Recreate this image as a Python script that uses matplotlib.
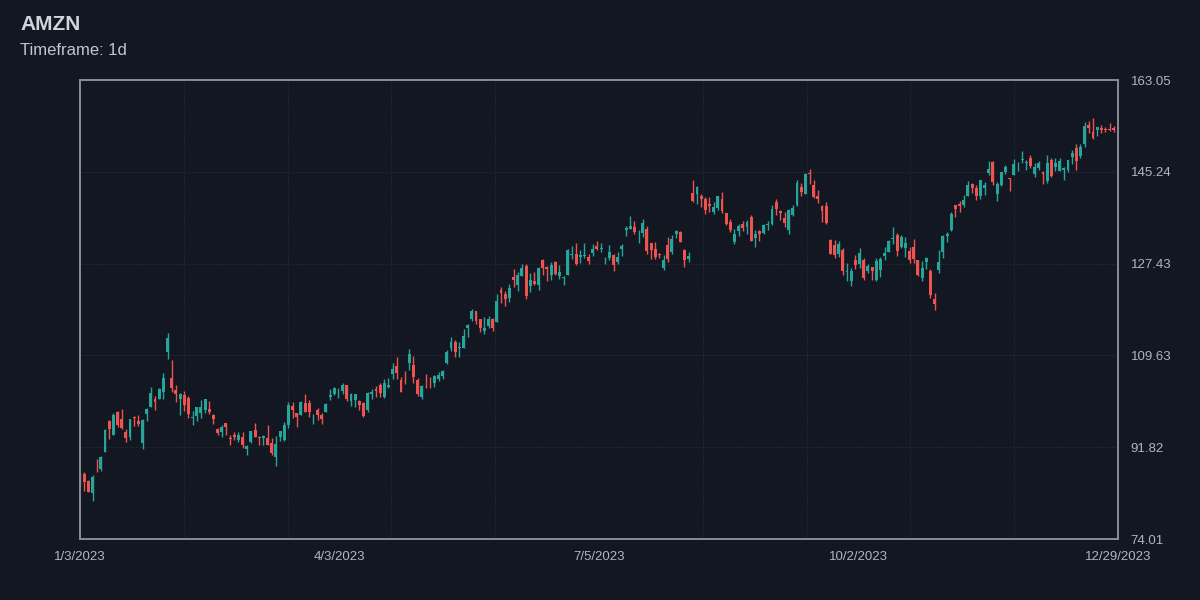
import numpy as np
import matplotlib
matplotlib.use("Agg")
import matplotlib.pyplot as plt

ticker = "AMZN"
timeframe = "1d"

# trading days, 2023
dates = [
    "1/3/2023", "1/4/2023", "1/5/2023", "1/6/2023", "1/9/2023", "1/10/2023", "1/11/2023", "1/12/2023", "1/13/2023",
    "1/17/2023", "1/18/2023", "1/19/2023", "1/20/2023", "1/23/2023", "1/24/2023", "1/25/2023", "1/26/2023", "1/27/2023",
    "1/30/2023", "1/31/2023",
    "2/1/2023", "2/2/2023", "2/3/2023", "2/6/2023", "2/7/2023", "2/8/2023", "2/9/2023", "2/10/2023", "2/13/2023",
    "2/14/2023", "2/15/2023", "2/16/2023", "2/17/2023", "2/21/2023", "2/22/2023", "2/23/2023", "2/24/2023", "2/27/2023",
    "2/28/2023",
    "3/1/2023", "3/2/2023", "3/3/2023", "3/6/2023", "3/7/2023", "3/8/2023", "3/9/2023", "3/10/2023", "3/13/2023",
    "3/14/2023", "3/15/2023", "3/16/2023", "3/17/2023", "3/20/2023", "3/21/2023", "3/22/2023", "3/23/2023", "3/24/2023",
    "3/27/2023", "3/28/2023", "3/29/2023", "3/30/2023", "3/31/2023",
    "4/3/2023", "4/4/2023", "4/5/2023", "4/6/2023", "4/10/2023", "4/11/2023", "4/12/2023", "4/13/2023", "4/14/2023",
    "4/17/2023", "4/18/2023", "4/19/2023", "4/20/2023", "4/21/2023", "4/24/2023", "4/25/2023", "4/26/2023", "4/27/2023",
    "4/28/2023",
    "5/1/2023", "5/2/2023", "5/3/2023", "5/4/2023", "5/5/2023", "5/8/2023", "5/9/2023", "5/10/2023", "5/11/2023",
    "5/12/2023", "5/15/2023", "5/16/2023", "5/17/2023", "5/18/2023", "5/19/2023", "5/22/2023", "5/23/2023", "5/24/2023",
    "5/25/2023", "5/26/2023", "5/30/2023", "5/31/2023",
    "6/1/2023", "6/2/2023", "6/5/2023", "6/6/2023", "6/7/2023", "6/8/2023", "6/9/2023", "6/12/2023", "6/13/2023",
    "6/14/2023", "6/15/2023", "6/16/2023", "6/20/2023", "6/21/2023", "6/22/2023", "6/23/2023", "6/26/2023", "6/27/2023",
    "6/28/2023", "6/29/2023", "6/30/2023",
    "7/3/2023", "7/5/2023", "7/6/2023", "7/7/2023", "7/10/2023", "7/11/2023", "7/12/2023", "7/13/2023", "7/14/2023",
    "7/17/2023", "7/18/2023", "7/19/2023", "7/20/2023", "7/21/2023", "7/24/2023", "7/25/2023", "7/26/2023", "7/27/2023",
    "7/28/2023", "7/31/2023",
    "8/1/2023", "8/2/2023", "8/3/2023", "8/4/2023", "8/7/2023", "8/8/2023", "8/9/2023", "8/10/2023", "8/11/2023",
    "8/14/2023", "8/15/2023", "8/16/2023", "8/17/2023", "8/18/2023", "8/21/2023", "8/22/2023", "8/23/2023", "8/24/2023",
    "8/25/2023", "8/28/2023", "8/29/2023", "8/30/2023", "8/31/2023",
    "9/1/2023", "9/5/2023", "9/6/2023", "9/7/2023", "9/8/2023", "9/11/2023", "9/12/2023", "9/13/2023", "9/14/2023",
    "9/15/2023", "9/18/2023", "9/19/2023", "9/20/2023", "9/21/2023", "9/22/2023", "9/25/2023", "9/26/2023", "9/27/2023",
    "9/28/2023", "9/29/2023",
    "10/2/2023", "10/3/2023", "10/4/2023", "10/5/2023", "10/6/2023", "10/9/2023", "10/10/2023", "10/11/2023",
    "10/12/2023", "10/13/2023", "10/16/2023", "10/17/2023", "10/18/2023", "10/19/2023", "10/20/2023", "10/23/2023",
    "10/24/2023", "10/25/2023", "10/26/2023", "10/27/2023", "10/30/2023", "10/31/2023",
    "11/1/2023", "11/2/2023", "11/3/2023", "11/6/2023", "11/7/2023", "11/8/2023", "11/9/2023", "11/10/2023",
    "11/13/2023", "11/14/2023", "11/15/2023", "11/16/2023", "11/17/2023", "11/20/2023", "11/21/2023", "11/22/2023",
    "11/24/2023", "11/27/2023", "11/28/2023", "11/29/2023", "11/30/2023",
    "12/1/2023", "12/4/2023", "12/5/2023", "12/6/2023", "12/7/2023", "12/8/2023", "12/11/2023", "12/12/2023",
    "12/13/2023", "12/14/2023", "12/15/2023", "12/18/2023", "12/19/2023", "12/20/2023", "12/21/2023", "12/22/2023",
    "12/26/2023", "12/27/2023", "12/28/2023", "12/29/2023",
]

opens = [
    85.46, 86.55, 85.33, 83.03, 87.46, 87.57, 90.93, 96.93, 94.18, 98.68, 97.25, 94.74, 93.86, 97.56, 96.93, 92.56,
    98.24, 99.53, 101.09, 101.16,
    102.53, 110.25, 105.26, 102.93, 101.17, 102.04, 101.32, 97.56, 97.85, 98.41, 99.09, 99.21, 98.00, 95.34, 94.68,
    96.42, 93.53, 94.28, 93.14,
    93.87, 91.41, 92.74, 95.19, 93.77, 93.60, 93.68, 92.67, 89.97, 93.83, 93.22, 96.06, 99.79, 98.41, 98.14, 100.45,
    100.43, 98.07, 99.07, 98.11, 98.69, 101.55, 102.16,
    102.30, 102.75, 103.91, 100.75, 100.96, 100.80, 100.40, 98.95, 102.07, 103.16, 103.95, 101.58, 103.53, 106.10,
    107.66, 104.91, 105.04, 108.16, 107.73,
    104.95, 101.47, 103.74, 104.04, 104.27, 105.04, 105.62, 108.10, 111.03, 112.16, 111.15, 111.05, 114.89, 116.69,
    118.16, 116.77, 114.27, 115.35, 116.63, 116.04, 122.37, 121.45,
    120.69, 124.92, 123.36, 125.07, 127.01, 123.01, 124.08, 123.34, 128.12, 126.70, 125.21, 127.71, 124.97, 124.73,
    125.31, 129.11, 129.33, 128.63, 128.94, 128.77, 129.47,
    130.82, 130.24, 128.25, 128.59, 129.07, 127.75, 130.31, 134.04, 134.06, 134.56, 132.71, 133.39, 134.07, 131.34,
    130.31, 129.31, 126.51, 131.00, 129.69, 133.20,
    133.55, 130.15, 128.37, 141.06, 140.99, 140.62, 139.97, 139.07, 137.40, 138.30, 140.05, 137.19, 135.46, 131.62,
    133.74, 135.08, 134.50, 136.40, 132.47, 133.78, 133.38, 134.93, 135.06,
    139.46, 137.73, 136.32, 133.90, 136.86, 138.75, 142.32, 140.95, 145.08, 142.69, 140.48, 138.70, 138.55, 131.94,
    131.11, 129.36, 130.12, 125.76, 124.04, 128.20,
    127.28, 128.06, 126.06, 126.71, 124.16, 126.22, 128.82, 129.74, 132.17, 132.98, 130.69, 130.39, 129.90, 130.57,
    128.05, 124.63, 127.74, 126.04, 120.63, 126.20, 129.72, 132.75,
    133.96, 138.73, 138.99, 138.76, 140.55, 142.97, 142.02, 140.46, 142.08, 145.00, 147.06, 140.91, 142.66, 145.13,
    143.91, 144.57, 146.70, 147.53, 146.98, 147.85, 144.76,
    146.00, 145.25, 143.55, 147.58, 146.15, 145.48, 145.66, 145.52, 148.12, 149.93, 148.38, 150.56, 154.40, 152.90,
    153.30, 153.77, 153.56, 153.56, 153.72, 153.10,
]

highs = [
    86.96, 86.98, 85.42, 86.40, 89.48, 90.19, 95.26, 97.19, 98.37, 98.89, 99.32, 95.44, 97.35, 97.78, 98.09, 97.24,
    99.49, 103.49, 101.74, 103.35,
    106.24, 114.00, 108.78, 103.95, 102.41, 102.67, 101.78, 98.84, 99.68, 100.92, 101.17, 100.78, 98.26, 95.61, 96.07,
    96.60, 94.14, 94.78, 94.69,
    94.68, 92.23, 95.05, 96.55, 94.00, 94.17, 96.22, 93.57, 94.02, 94.95, 96.67, 100.60, 100.66, 98.48, 100.85, 102.10,
    101.06, 98.30, 99.34, 98.44, 100.42, 103.04, 103.49,
    103.29, 104.20, 103.91, 102.38, 102.20, 101.00, 100.51, 102.57, 103.20, 103.73, 104.20, 105.12, 105.25, 108.15,
    109.23, 105.45, 106.62, 110.86, 109.48,
    105.23, 103.90, 105.96, 105.39, 105.76, 106.31, 106.79, 110.67, 113.28, 112.64, 112.29, 114.79, 115.79, 118.60,
    118.31, 116.77, 117.14, 117.34, 116.87, 121.50, 122.92, 122.04,
    123.49, 126.38, 125.80, 127.40, 127.37, 125.63, 125.80, 126.78, 128.41, 126.95, 127.69, 127.90, 127.25, 125.00,
    130.33, 130.84, 131.49, 130.09, 131.48, 129.26, 131.25,
    131.85, 131.40, 128.73, 130.97, 129.28, 129.77, 131.26, 134.67, 136.65, 135.62, 133.86, 135.99, 134.79, 131.37,
    131.66, 129.58, 129.08, 132.63, 133.01, 133.87,
    133.69, 130.23, 129.77, 143.63, 142.54, 140.84, 140.32, 140.41, 139.33, 140.59, 141.28, 137.27, 136.09, 134.07,
    135.19, 135.65, 135.95, 136.78, 133.87, 133.95, 135.14, 135.68, 138.79,
    139.96, 137.80, 137.45, 138.03, 138.85, 143.62, 143.00, 144.98, 145.86, 143.57, 141.75, 138.84, 139.37, 132.24,
    132.03, 131.78, 130.39, 127.48, 126.58, 129.15,
    130.47, 128.52, 127.36, 126.73, 128.45, 128.79, 130.74, 132.05, 134.48, 133.31, 133.07, 132.58, 130.67, 132.24,
    128.17, 127.88, 128.80, 126.34, 121.64, 130.02, 133.00, 133.57,
    137.35, 138.81, 139.49, 140.73, 143.37, 143.12, 142.65, 143.65, 143.23, 147.26, 147.29, 143.32, 145.23, 146.63,
    144.05, 147.74, 147.20, 149.26, 147.60, 148.54, 146.93,
    147.25, 145.35, 148.57, 147.85, 147.92, 147.84, 146.19, 147.50, 149.46, 150.54, 150.57, 154.85, 155.12, 155.63,
    153.97, 154.35, 153.98, 154.78, 154.08, 153.89,
]

lows = [
    84.21, 83.36, 83.07, 81.43, 87.08, 87.29, 90.93, 93.50, 94.12, 95.73, 95.38, 92.86, 93.20, 95.86, 96.00, 91.52,
    96.92, 99.53, 99.01, 101.14,
    101.24, 108.88, 102.52, 100.65, 98.08, 98.78, 97.57, 96.19, 96.91, 97.52, 98.45, 98.26, 96.28, 94.27, 93.80,
    94.26, 92.32, 93.14, 92.92,
    91.59, 90.39, 92.66, 93.74, 92.16, 92.18, 92.18, 90.25, 88.12, 92.93, 93.07, 95.61, 97.46, 95.70, 98.00, 98.61,
    97.62, 96.40, 97.08, 96.29, 98.56, 101.01, 101.95,
    101.43, 102.11, 100.75, 99.80, 99.57, 99.01, 97.71, 98.71, 101.11, 101.59, 101.52, 101.39, 103.21, 105.08,
    105.07, 102.45, 104.10, 106.80, 104.33,
    101.82, 101.15, 103.28, 103.31, 103.55, 104.70, 105.12, 108.05, 110.49, 109.32, 109.25, 111.03, 113.28, 116.34,
    115.70, 114.25, 113.78, 115.02, 114.31, 116.02, 119.86, 119.17,
    119.93, 122.89, 122.03, 125.00, 120.63, 121.86, 123.19, 122.30, 125.18, 124.12, 124.32, 125.30, 124.50, 123.21,
    125.14, 128.28, 127.10, 127.55, 128.44, 127.26, 128.95,
    130.07, 129.64, 127.37, 128.13, 125.92, 127.35, 128.83, 132.71, 134.06, 133.21, 131.35, 132.53, 129.33, 128.42,
    128.35, 128.53, 126.11, 127.79, 129.33, 132.38,
    131.62, 126.82, 127.77, 139.32, 138.95, 138.42, 137.10, 137.49, 137.00, 137.75, 137.23, 135.01, 133.53, 131.15,
    132.71, 133.73, 133.22, 131.83, 130.58, 131.85, 133.25, 133.92, 135.00,
    136.88, 135.82, 134.61, 133.16, 136.75, 138.64, 140.61, 140.87, 142.95, 140.09, 139.22, 135.56, 135.20, 129.31,
    128.52, 128.77, 125.28, 124.13, 123.04, 126.32,
    126.54, 124.25, 125.68, 124.33, 124.13, 124.76, 128.05, 129.61, 131.23, 128.95, 130.43, 128.71, 127.51, 127.47,
    124.97, 123.98, 126.34, 120.79, 118.35, 125.52, 128.56, 131.71,
    133.71, 136.47, 137.45, 138.36, 140.50, 141.22, 139.84, 139.91, 140.67, 144.68, 142.59, 139.52, 142.54, 144.73,
    141.50, 144.57, 145.32, 146.88, 145.53, 145.97, 144.33,
    145.55, 142.81, 143.13, 144.28, 145.34, 145.40, 143.64, 145.30, 146.82, 145.52, 147.88, 150.05, 152.69, 151.56,
    152.10, 152.71, 153.03, 153.12, 152.95, 151.03,
]

closes = [
    85.82, 85.14, 83.12, 86.08, 87.36, 89.87, 95.09, 95.27, 98.12, 96.05, 95.46, 93.68, 97.25, 97.52, 96.32, 97.18,
    99.22, 102.24, 100.55, 103.13,
    105.15, 112.91, 103.39, 102.18, 102.11, 100.05, 98.24, 97.61, 99.54, 99.70, 101.16, 98.65, 97.20, 94.58, 95.79,
    95.82, 93.50, 93.76, 94.23,
    92.17, 92.13, 94.90, 93.75, 93.55, 93.92, 92.25, 90.73, 92.43, 94.88, 96.20, 100.04, 98.95, 97.71, 100.61, 98.70,
    98.71, 98.13, 98.04, 97.24, 100.25, 102.00, 103.29,
    102.41, 103.95, 101.10, 102.06, 102.17, 99.92, 97.83, 102.40, 102.51, 102.74, 102.30, 104.30, 103.81, 106.96,
    106.21, 102.57, 104.98, 109.82, 105.45,
    102.05, 103.63, 103.65, 104.00, 105.66, 105.83, 106.62, 110.19, 112.18, 110.26, 111.20, 113.40, 115.50, 118.15,
    116.25, 115.01, 114.99, 116.75, 115.00, 120.11, 121.66, 120.58,
    122.77, 124.25, 125.30, 126.61, 121.23, 124.25, 123.43, 126.57, 126.66, 126.42, 127.11, 125.49, 125.78, 124.83,
    130.15, 129.33, 127.33, 129.18, 129.04, 127.90, 130.36,
    130.22, 130.38, 128.36, 129.78, 127.13, 128.78, 130.80, 134.30, 134.68, 133.56, 132.83, 135.36, 129.96, 130.00,
    128.80, 129.13, 128.15, 128.25, 132.21, 133.68,
    131.69, 128.21, 128.91, 139.57, 142.22, 139.94, 137.85, 138.56, 138.41, 140.57, 137.67, 135.07, 133.98, 133.22,
    134.68, 134.25, 135.52, 131.84, 133.26, 133.14, 134.91, 135.07, 138.01,
    138.12, 137.27, 135.36, 137.85, 138.23, 143.10, 141.23, 144.85, 144.72, 140.39, 139.98, 137.63, 135.29, 129.33,
    129.12, 131.27, 125.98, 125.98, 125.98, 127.12,
    129.46, 124.72, 127.00, 125.96, 127.96, 128.26, 129.48, 131.83, 132.33, 129.79, 132.55, 131.47, 128.13, 128.40,
    125.17, 126.56, 128.56, 121.39, 119.57, 127.74, 132.71, 133.09,
    137.00, 138.07, 138.60, 139.74, 142.71, 142.08, 140.60, 143.56, 142.59, 145.80, 143.20, 142.83, 145.18, 146.13,
    143.90, 146.71, 146.74, 147.73, 147.03, 146.32, 146.09,
    147.03, 144.84, 146.88, 144.52, 146.88, 147.42, 145.89, 147.48, 148.84, 147.42, 149.97, 154.07, 153.79, 151.77,
    153.84, 153.42, 153.41, 153.34, 153.38, 151.94,
]

bg = "#131722"
up_color = "#26a69a"
down_color = "#ef5350"
text_color = "#b2b5be"
grid_color = "#262a36"
border_color = "#8a8d96"

o = np.array(opens)
h = np.array(highs)
l = np.array(lows)
c = np.array(closes)
x = np.arange(len(dates))
colors = np.where(c >= o, up_color, down_color)

fig = plt.figure(figsize=(12, 6), dpi=100, facecolor=bg)
ax = fig.add_axes([80 / 1200, 61 / 600, 1038 / 1200, 459 / 600])
ax.set_facecolor(bg)

# sumbu dan grid
lo, hi = l.min(), h.max()
pad = (hi - lo) * 0.1
ymin, ymax = lo - pad, hi + pad
ax.set_xlim(0, len(dates) - 1)
ax.set_ylim(ymin, ymax)

yt = np.linspace(ymin, ymax, 6)
ax.set_yticks(yt)
ax.set_yticklabels([f"{v:.2f}" for v in yt])
ax.yaxis.tick_right()

xt = np.linspace(0, len(dates) - 1, 5)
ax.set_xticks(xt)
ax.set_xticklabels([dates[int(p + 0.5)] for p in xt])
ax.set_xticks(np.linspace(0, len(dates) - 1, 11), minor=True)

ax.tick_params(axis="both", which="both", length=0, colors=text_color, labelsize=9.5)
ax.tick_params(axis="y", pad=9)
ax.tick_params(axis="x", pad=9)
ax.grid(True, axis="y", which="major", color=grid_color, linewidth=0.8, linestyle=(0, (1, 1)))
ax.grid(True, axis="x", which="minor", color=grid_color, linewidth=0.8, linestyle=(0, (1, 1)))
ax.set_axisbelow(True)
for s in ax.spines.values():
    s.set_color(border_color)
    s.set_linewidth(1.4)
    s.set_zorder(5)

# candle
ax.vlines(x, l, h, colors=colors, linewidth=1, zorder=2)
body = np.maximum(np.abs(c - o), 0.08)
ax.bar(x, body, bottom=np.minimum(o, c), width=0.7, color=colors, linewidth=0, zorder=3)

for lab in ax.get_xticklabels() + ax.get_yticklabels():
    lab.set_family(["Liberation Sans", "DejaVu Sans"])

fig.text(20 / 1200, 1 - 30 / 600, ticker, fontsize=15, fontweight="bold", color="#d1d4dc",
         family=["Liberation Sans", "DejaVu Sans"], va="baseline")
fig.text(20 / 1200, 1 - 55 / 600, f"Timeframe: {timeframe}", fontsize=12, color="#c3c6ce",
         family=["Liberation Sans", "DejaVu Sans"], va="baseline")

fig.savefig("out.png", dpi=100, facecolor=bg)
